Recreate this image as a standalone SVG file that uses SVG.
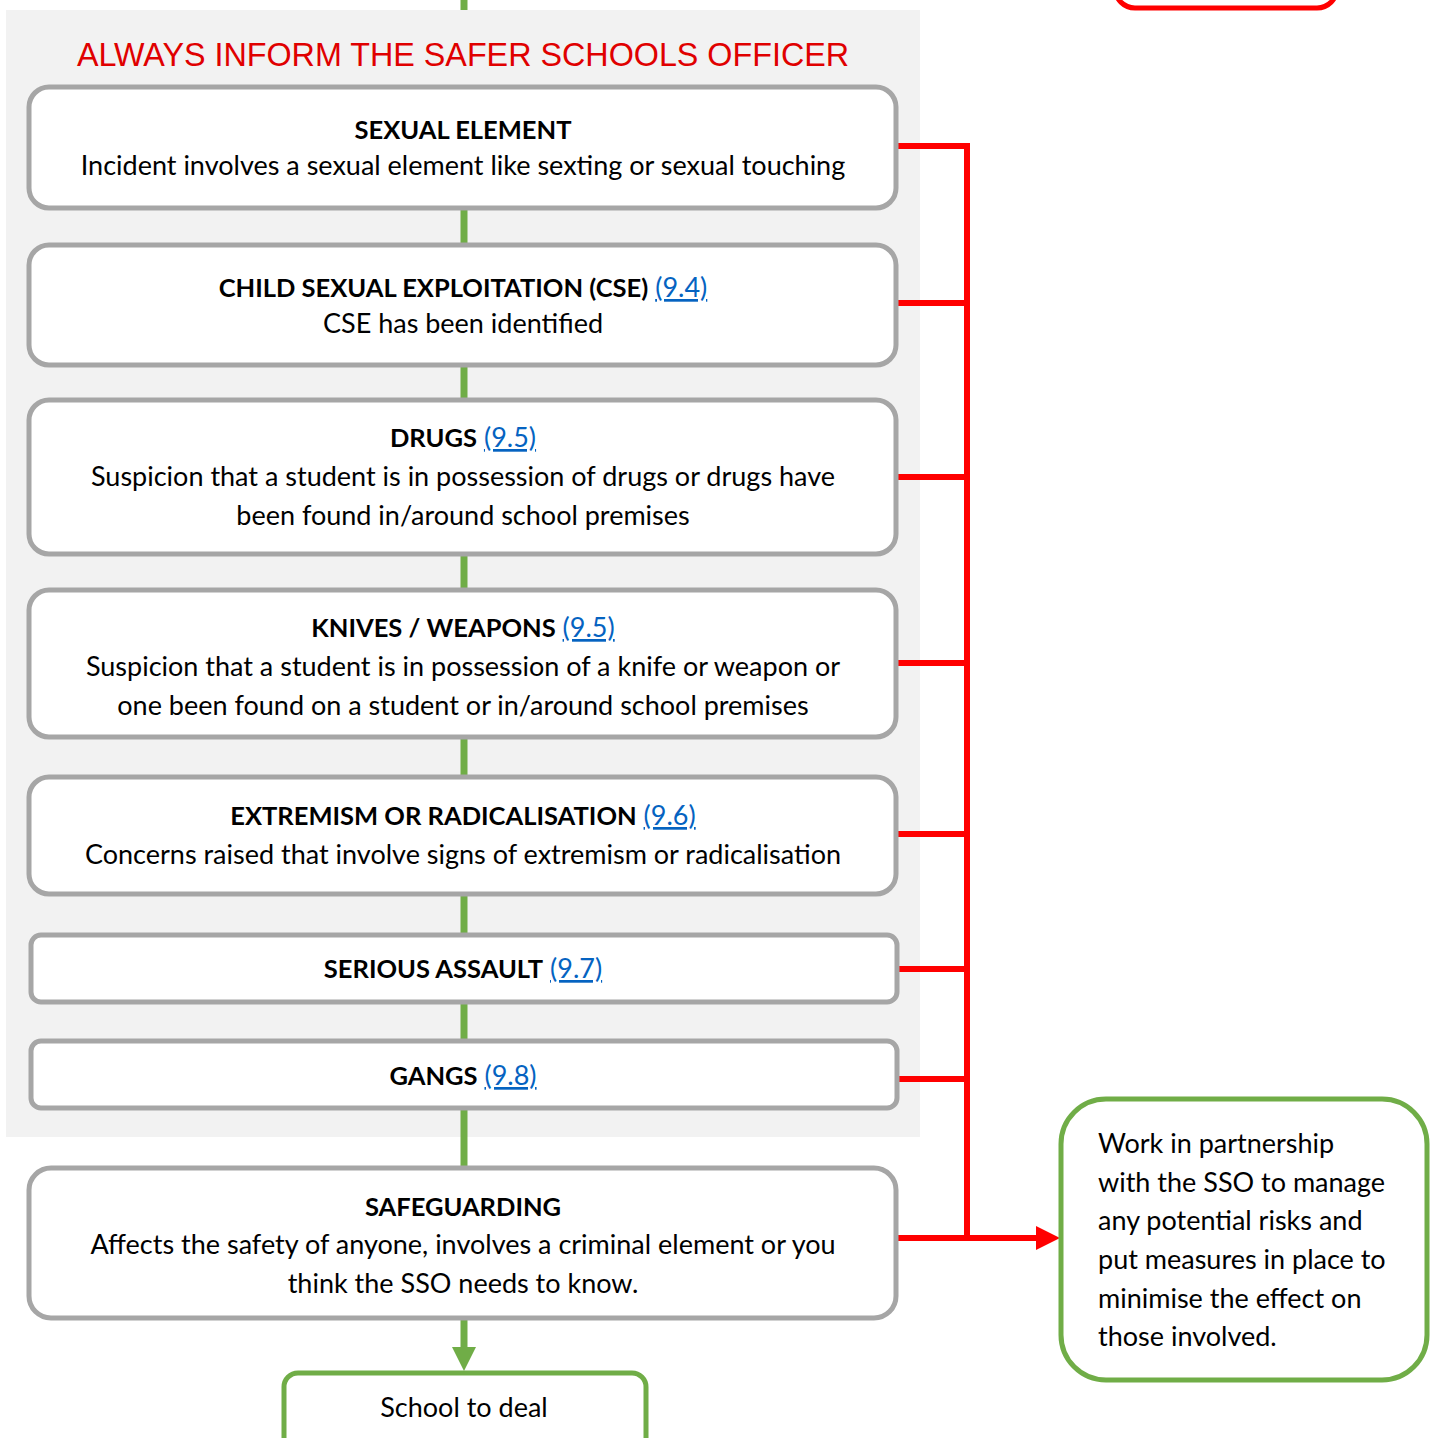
<svg xmlns="http://www.w3.org/2000/svg" width="1435" height="1438" viewBox="0 0 1435 1438">
<style>
.box{fill:#fff;stroke:#a6a6a6;stroke-width:5}
.gbox{fill:#fff;stroke:#70ad47;stroke-width:5}
.t{font-family:Lato,"Liberation Sans",sans-serif;font-size:27px;fill:#000;text-anchor:middle}
.s{text-anchor:start}
.b{font-weight:bold;font-size:25.5px}
.lk{fill:#0563c1;text-decoration:underline;font-weight:normal;font-size:27px}
.g{stroke:#70ad47;stroke-width:7;fill:none}
.r{stroke:#ff0000;stroke-width:6;fill:none}
</style>
<rect x="6" y="10" width="914" height="1127" fill="#f2f2f2"/>
<rect id="top-red" x="1115" y="-60" width="222" height="68" rx="20" fill="#fff" stroke="#ff0000" stroke-width="5"/>
<text x="463" y="66" font-family="'Liberation Sans',Arial,sans-serif" font-size="32.3" fill="#e00000" text-anchor="middle">ALWAYS INFORM THE SAFER SCHOOLS OFFICER</text>
<g id="connectors">
<line class="g" x1="464" y1="0" x2="464" y2="10"/>
<line class="g" x1="464" y1="208" x2="464" y2="245"/>
<line class="g" x1="464" y1="365" x2="464" y2="400"/>
<line class="g" x1="464" y1="554" x2="464" y2="590"/>
<line class="g" x1="464" y1="737" x2="464" y2="777"/>
<line class="g" x1="464" y1="894" x2="464" y2="935"/>
<line class="g" x1="464" y1="1002" x2="464" y2="1041"/>
<line class="g" x1="464" y1="1108" x2="464" y2="1168"/>
<line class="g" x1="464" y1="1318" x2="464" y2="1348"/>
<path d="M452,1347 L476,1347 L464,1371 Z" fill="#70ad47"/>
<path class="r" d="M898,146 H967 V1238"/>
<line class="r" x1="898" y1="303" x2="967" y2="303"/>
<line class="r" x1="898" y1="477" x2="967" y2="477"/>
<line class="r" x1="898" y1="663" x2="967" y2="663"/>
<line class="r" x1="898" y1="834" x2="967" y2="834"/>
<line class="r" x1="898" y1="969" x2="967" y2="969"/>
<line class="r" x1="898" y1="1079" x2="967" y2="1079"/>
<line class="r" x1="898" y1="1238" x2="1038" y2="1238"/>
<path d="M1036,1226 L1060,1238 L1036,1250 Z" fill="#ff0000"/>
</g>
<g id="sexual">
<rect class="box" x="29" y="87" width="867" height="121" rx="20"/>
<text class="t b" x="463" y="139">SEXUAL ELEMENT</text>
<text class="t" x="463" y="175">Incident involves a sexual element like sexting or sexual touching</text>
</g>
<g id="cse">
<rect class="box" x="29" y="245" width="867" height="120" rx="20"/>
<text class="t" x="463" y="297"><tspan class="b">CHILD SEXUAL EXPLOITATION (CSE)</tspan> <tspan class="lk">(9.4)</tspan></text>
<text class="t" x="463" y="333">CSE has been identified</text>
</g>
<g id="drugs">
<rect class="box" x="29" y="400" width="867" height="154" rx="20"/>
<text class="t" x="463" y="447"><tspan class="b">DRUGS</tspan> <tspan class="lk">(9.5)</tspan></text>
<text class="t" x="463" y="486">Suspicion that a student is in possession of drugs or drugs have</text>
<text class="t" x="463" y="525">been found in/around school premises</text>
</g>
<g id="knives">
<rect class="box" x="29" y="590" width="867" height="147" rx="20"/>
<text class="t" x="463" y="637"><tspan class="b">KNIVES / WEAPONS</tspan> <tspan class="lk">(9.5)</tspan></text>
<text class="t" x="463" y="676">Suspicion that a student is in possession of a knife or weapon or</text>
<text class="t" x="463" y="715">one been found on a student or in/around school premises</text>
</g>
<g id="extremism">
<rect class="box" x="29" y="777" width="867" height="117" rx="20"/>
<text class="t" x="463" y="825"><tspan class="b">EXTREMISM OR RADICALISATION</tspan> <tspan class="lk">(9.6)</tspan></text>
<text class="t" x="463" y="864">Concerns raised that involve signs of extremism or radicalisation</text>
</g>
<g id="assault">
<rect class="box" x="31" y="935" width="866" height="67" rx="10"/>
<text class="t" x="463" y="978"><tspan class="b">SERIOUS ASSAULT</tspan> <tspan class="lk">(9.7)</tspan></text>
</g>
<g id="gangs">
<rect class="box" x="31" y="1041" width="866" height="67" rx="10"/>
<text class="t" x="463" y="1085"><tspan class="b">GANGS</tspan> <tspan class="lk">(9.8)</tspan></text>
</g>
<g id="safeguarding">
<rect class="box" x="29" y="1168" width="867" height="150" rx="22"/>
<text class="t b" x="463" y="1216">SAFEGUARDING</text>
<text class="t" x="463" y="1254">Affects the safety of anyone, involves a criminal element or you</text>
<text class="t" x="463" y="1293">think the SSO needs to know.</text>
</g>
<g id="partnership">
<rect class="gbox" x="1061" y="1099" width="366" height="281" rx="45"/>
<text class="t s" x="1098" y="1153">Work in partnership</text>
<text class="t s" x="1098" y="1192">with the SSO to manage</text>
<text class="t s" x="1098" y="1230">any potential risks and</text>
<text class="t s" x="1098" y="1269">put measures in place to</text>
<text class="t s" x="1098" y="1308">minimise the effect on</text>
<text class="t s" x="1098" y="1346">those involved.</text>
</g>
<g id="school">
<rect class="gbox" x="284" y="1373" width="362" height="100" rx="14"/>
<text class="t" x="464" y="1417">School to deal</text>
</g>
</svg>
